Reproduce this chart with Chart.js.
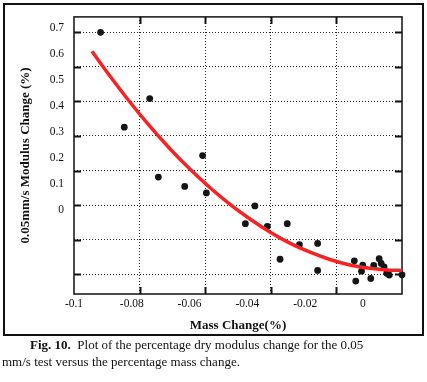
<!DOCTYPE html>
<html>
<head>
<meta charset="utf-8">
<script src="https://cdn.jsdelivr.net/npm/chart.js@4.4.0/dist/chart.umd.min.js"></script>
<style>
  html, body { margin: 0; padding: 0; background: #fff; }
  #wrap { position: relative; width: 427px; height: 382px; overflow: hidden; }
  #chart { position: absolute; left: 0; top: 0; }
  #frame { position: absolute; left: 3px; top: 3px; width: 421px; height: 333px; box-sizing: border-box; border: 2px solid #111; pointer-events: none; }
  #caption { position: absolute; left: 2px; top: 337px; width: 425px; font: 13px 'Liberation Serif', serif; line-height: 16.5px; color: #111; text-indent: 28px; white-space: nowrap; }
</style>
</head>
<body>
<div id="wrap">
  <canvas id="chart" width="427" height="340"></canvas>
  <div id="frame"></div>
  <div id="caption"><b>Fig. 10.</b>&nbsp; Plot of the percentage dry modulus change for the 0.05<br>mm/s test versus the percentage mass change.</div>
</div>
<script>
// tick labels
const xTickLabels = [-0.1, -0.08, -0.06, -0.04, -0.02, 0];
const yTickLabels = [0, 0.1, 0.2, 0.3, 0.4, 0.5, 0.6, 0.7];

// dotted grid positions (they do not line up with the labels in the figure)
const xGridValues = [-0.0772, -0.0546, -0.0319, -0.0093];
const yGridValues = [0.6824, 0.5493, 0.4166, 0.2835, 0.1504, 0.0176, -0.1155, -0.2486];

// measured points
const massChange = [-0.0908, -0.0738, -0.0826, -0.0708, -0.0617, -0.0555, -0.0542, -0.0374, -0.0407,
  -0.0331, -0.0262, -0.0287, -0.0220, -0.0157, -0.0157, -0.0030, -0.0025, -0.0001, -0.0005,
  0.0027, 0.0037, 0.0056, 0.0063, 0.0073, 0.0082, 0.0091, 0.0135];
const modulusChange = [0.682, 0.427, 0.317, 0.125, 0.089, 0.208, 0.064, 0.014, -0.054,
  -0.065, -0.054, -0.191, -0.135, -0.130, -0.234, -0.197, -0.275, -0.214, -0.237,
  -0.265, -0.215, -0.189, -0.207, -0.220, -0.245, -0.252, -0.251];

// red fit curve
const fitX = [-0.0938, -0.0875, -0.0806, -0.0737, -0.0668, -0.0599, -0.0529, -0.0460, -0.0391,
  -0.0322, -0.0253, -0.0183, -0.0114, -0.0045, 0.0024, 0.0093, 0.0135];
const fitY = [0.609, 0.513, 0.413, 0.320, 0.234, 0.156, 0.084, 0.020, -0.036,
  -0.086, -0.129, -0.164, -0.192, -0.213, -0.226, -0.233, -0.234];

const X_MIN = -0.1, X_MAX = 0.0135;
const Y_MIN = -0.3247, Y_MAX = 0.7413;

Chart.defaults.font.family = "'Liberation Serif', 'Times New Roman', serif";
Chart.defaults.color = '#111';

const frameTicks = {
  id: 'frameTicks',
  beforeDatasetsDraw(chart) {
    const { ctx, chartArea: a, scales } = chart;
    ctx.save();
    ctx.strokeStyle = '#111';
    ctx.lineWidth = 1.5;
    ctx.strokeRect(a.left, a.top, a.right - a.left, a.bottom - a.top);
    ctx.lineWidth = 2;
    ctx.beginPath();
    scales.xg.ticks.forEach(t => {
      const x = Math.round(scales.xg.getPixelForValue(t.value)) + 0.5;
      ctx.moveTo(x, a.bottom); ctx.lineTo(x, a.bottom - 7);
      ctx.moveTo(x, a.top); ctx.lineTo(x, a.top + 7);
    });
    scales.yg.ticks.forEach(t => {
      const y = Math.round(scales.yg.getPixelForValue(t.value)) + 0.5;
      ctx.moveTo(a.left, y); ctx.lineTo(a.left + 7, y);
      ctx.moveTo(a.right, y); ctx.lineTo(a.right - 7, y);
    });
    ctx.stroke();
    ctx.restore();
  }
};

const setTicks = values => scale => { scale.ticks = values.map(v => ({ value: v })); };

new Chart(document.getElementById('chart'), {
  type: 'scatter',
  data: {
    datasets: [
      {
        label: 'fit',
        data: fitX.map((x, i) => ({ x, y: fitY[i] })),
        showLine: true,
        borderColor: '#f42424',
        borderWidth: 3.5,
        pointRadius: 0,
        cubicInterpolationMode: 'monotone',
        order: 0
      },
      {
        label: 'data',
        data: massChange.map((x, i) => ({ x, y: modulusChange[i] })),
        backgroundColor: '#151515',
        borderColor: '#151515',
        borderWidth: 0,
        pointRadius: 3.4,
        clip: false,
        order: 1
      }
    ]
  },
  options: {
    responsive: false,
    animation: false,
    layout: { padding: { left: 0, top: 10, right: 25, bottom: 0 } },
    plugins: { legend: { display: false }, tooltip: { enabled: false } },
    scales: {
      x: {
        type: 'linear', position: 'bottom', min: X_MIN, max: X_MAX,
        afterBuildTicks: setTicks(xTickLabels),
        afterFit: s => { s.height = 46; },
        grid: { display: false, drawTicks: false },
        border: { display: false },
        ticks: { padding: 3, font: { size: 11.5 }, color: '#111', maxRotation: 0, callback: v => String(v) },
        title: { display: true, text: 'Mass Change(%)', font: { size: 13, weight: 'bold' }, color: '#111', padding: { top: 0, bottom: 7 } }
      },
      y: {
        type: 'linear', position: 'left', min: Y_MIN, max: Y_MAX,
        afterBuildTicks: setTicks(yTickLabels),
        afterFit: s => { s.width = 74; },
        grid: { display: false, drawTicks: false },
        border: { display: false },
        ticks: { padding: 10, font: { size: 11.5 }, color: '#111', callback: v => String(v) },
        title: { display: true, text: '0.05mm/s Modulus Change (%)', font: { size: 13, weight: 'bold' }, color: '#111', padding: { top: 18, bottom: 0 } }
      },
      xg: {
        type: 'linear', position: 'top', min: X_MIN, max: X_MAX,
        afterBuildTicks: setTicks(xGridValues),
        afterFit: s => { s.height = 0; },
        grid: { color: '#222', lineWidth: 1, drawTicks: false },
        border: { display: false, dash: [1, 2] },
        ticks: { display: false }
      },
      yg: {
        type: 'linear', position: 'right', min: Y_MIN, max: Y_MAX,
        afterBuildTicks: setTicks(yGridValues),
        afterFit: s => { s.width = 0; },
        grid: { color: '#222', lineWidth: 1, drawTicks: false },
        border: { display: false, dash: [1, 2] },
        ticks: { display: false }
      }
    }
  },
  plugins: [frameTicks]
});
</script>
</body>
</html>
